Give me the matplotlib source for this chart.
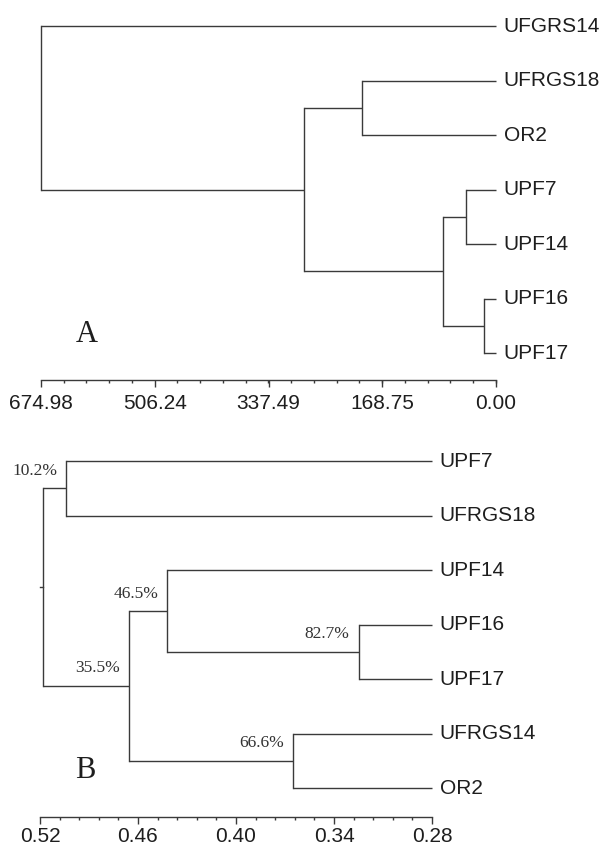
import matplotlib
matplotlib.use("Agg")
import matplotlib.pyplot as plt

# Panel A: distance dendrogram
leaves_a = ["UFGRS14", "UFRGS18", "OR2", "UPF7", "UPF14", "UPF16", "UPF17"]
# merges: (child, child, height); new clusters are numbered from len(leaves)
merges_a = [(5, 6, 17.1), (3, 4, 43.8), (8, 7, 78.5), (1, 2, 198.5),
            (10, 9, 284.3), (0, 11, 674.98)]
ticks_a = [674.98, 506.24, 337.49, 168.75, 0.00]
leaf_height_a = 0.0

# Panel B: similarity dendrogram with support values
leaves_b = ["UPF7", "UFRGS18", "UPF14", "UPF16", "UPF17", "UFRGS14", "OR2"]
merges_b = [(3, 4, 0.325), (5, 6, 0.365), (2, 7, 0.442), (9, 8, 0.4655),
            (0, 1, 0.504), (11, 10, 0.518)]
support_b = ["82.7%", "66.6%", "46.5%", "35.5%", "10.2%", None]
ticks_b = [0.52, 0.46, 0.40, 0.34, 0.28]
leaf_height_b = 0.28

W, H = 600, 847
line_col = "#3a3a3a"
text_col = "#1e1e1e"
sans = ["Liberation Sans", "DejaVu Sans"]
serif = ["Liberation Serif", "DejaVu Serif"]

fig = plt.figure(figsize=(W / 100, H / 100), dpi=100)


def make_axes(left, right, top, bottom):
    return fig.add_axes([left / W, 1 - bottom / H, (right - left) / W, (bottom - top) / H])


def draw_tree(ax, leaves, merges, leaf_h, x_start, support=None):
    ys = {i: float(i) for i in range(len(leaves))}
    hs = {i: leaf_h for i in range(len(leaves))}
    n = len(leaves)
    for k, (a, b, h) in enumerate(merges):
        ax.plot([h, h], [ys[a], ys[b]], color=line_col, lw=1.0, clip_on=False,
                solid_capstyle="projecting")
        for c in (a, b):
            ax.plot([h, hs[c]], [ys[c], ys[c]], color=line_col, lw=1.0, clip_on=False,
                    solid_capstyle="butt")
        new = n + k
        ys[new] = (ys[a] + ys[b]) / 2
        hs[new] = h
        if support is not None and support[k]:
            ax.annotate(support[k], xy=(h, ys[new]), xytext=(-6.5, 12.5),
                        textcoords="offset points", ha="right", va="center",
                        fontsize=12.5, family=serif, color="#333333")
    root = n + len(merges) - 1
    if hs[root] != x_start:
        ax.plot([hs[root], x_start], [ys[root], ys[root]], color=line_col, lw=1.0,
                clip_on=False)
    for i, name in enumerate(leaves):
        ax.annotate(name, xy=(leaf_h, i), xytext=(5.5, 0), textcoords="offset points",
                    ha="left", va="center", fontsize=15, family=sans, color=text_col)


def style_axis(ax, ticks, fmt, ylim_bottom, pad):
    lo, hi = ticks[0], ticks[-1]
    ax.set_xlim(lo, hi)
    ax.set_ylim(ylim_bottom, 0)
    for s in ("top", "left", "right"):
        ax.spines[s].set_visible(False)
    ax.spines["bottom"].set_color(line_col)
    ax.spines["bottom"].set_linewidth(1.0)
    ax.set_yticks([])
    ax.set_xticks(ticks)
    ax.set_xticklabels([fmt.format(t) for t in ticks], fontsize=15, family=sans,
                       color=text_col)
    step = (ticks[1] - ticks[0]) / 5
    minors = [ticks[0] + step * j for j in range(5 * (len(ticks) - 1) + 1)]
    ax.set_xticks(minors, minor=True)
    ax.tick_params(axis="x", which="major", direction="out", length=4.8, width=1.0,
                   color=line_col, pad=pad)
    ax.tick_params(axis="x", which="minor", direction="out", length=2.4, width=1.0,
                   color=line_col)
    ax.patch.set_visible(False)


ax_a = make_axes(41, 496, 26, 380)
style_axis(ax_a, ticks_a, "{:.2f}", 6.495, 5)
draw_tree(ax_a, leaves_a, merges_a, leaf_height_a, ticks_a[0])

ax_b = make_axes(40, 432, 461, 817)
style_axis(ax_b, ticks_b, "{:.2f}", 6.532, 2.5)
draw_tree(ax_b, leaves_b, merges_b, leaf_height_b, ticks_b[0], support_b)

fig.text(86.5 / W, 1 - 335 / H, "A", fontsize=22, family=serif, color=text_col,
         ha="center", va="center")
fig.text(85 / W, 1 - 770 / H, "B", fontsize=22, family=serif, color=text_col,
         ha="center", va="center")

fig.savefig("out.png", dpi=100)
